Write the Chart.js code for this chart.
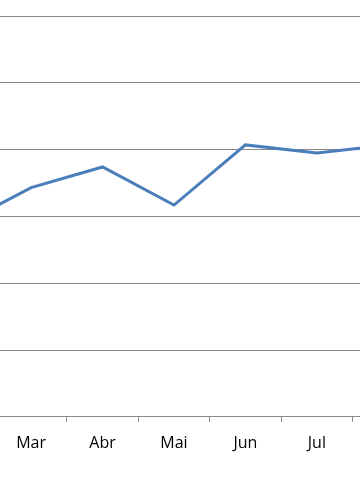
<!DOCTYPE html>
<html>
<head>
<meta charset="utf-8">
<script src="https://cdn.jsdelivr.net/npm/chart.js@4/dist/chart.umd.min.js"></script>
<style>
html,body{margin:0;padding:0;background:#fff;overflow:hidden;width:360px;height:504px;}
#wrap{position:absolute;left:-76px;top:0;width:500px;height:504px;}
</style>
</head>
<body>
<div id="wrap"><canvas id="c" width="500" height="504"></canvas></div>
<script>
const categories = ["Fev", "Mar", "Abr", "Mai", "Jun", "Jul", "Ago"];
const values = [2.87, 3.43, 3.74, 3.17, 4.07, 3.95, 4.07];
const yMin = 0, yMax = 6, yStep = 1;

new Chart(document.getElementById('c'), {
  type: 'line',
  data: {
    labels: categories,
    datasets: [{
      data: values,
      borderColor: '#4a7ebb',
      borderWidth: 3,
      pointRadius: 0,
      tension: 0,
      fill: false
    }]
  },
  options: {
    responsive: false,
    animation: false,
    devicePixelRatio: 1,
    layout: { padding: { top: 16, bottom: 39, left: 0, right: 0 } },
    plugins: { legend: { display: false }, tooltip: { enabled: false } },
    scales: {
      x: {
        offset: true,
        grid: {
          offset: true,
          drawOnChartArea: false,
          drawTicks: true,
          tickLength: 5,
          color: '#888888',
          lineWidth: 1
        },
        border: { display: true, color: '#888888', width: 1 },
        ticks: {
          color: '#000000',
          padding: 12,
          maxRotation: 0,
          autoSkip: false,
          font: { family: 'Open Sans', size: 16 }
        }
      },
      y: {
        min: yMin,
        max: yMax,
        ticks: { display: false, stepSize: yStep },
        grid: { color: '#888888', lineWidth: 1, drawTicks: false },
        border: { display: false }
      }
    }
  }
});
</script>
</body>
</html>
